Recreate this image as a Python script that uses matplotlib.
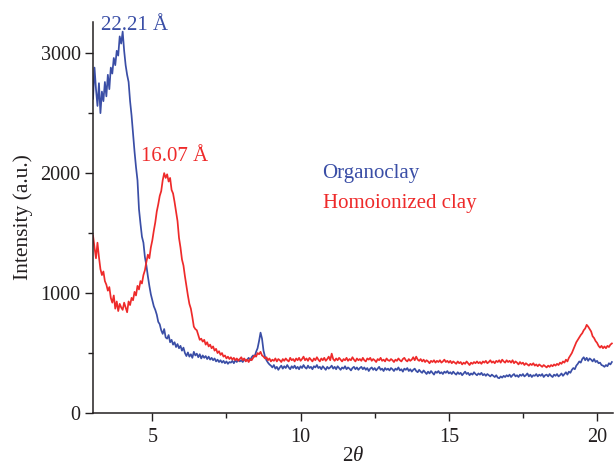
import numpy as np
import matplotlib
matplotlib.use("Agg")
import matplotlib.pyplot as plt
from matplotlib.ticker import MultipleLocator

# Organoclay intensity (a.u.), one row per degree of 2-theta, step 0.05 from 3.00
organoclay = [
    2620, 2880, 2700, 2560, 2750, 2500, 2680, 2600, 2760, 2640, 2820, 2700, 2880, 2830, 2960, 2900, 3020, 2980, 3140, 3080,
    3180, 3020, 2900, 2820, 2760, 2600, 2480, 2330, 2180, 2050, 1940, 1700, 1580, 1470, 1420, 1300, 1230, 1140, 1060, 990,
    940, 890, 860, 820, 760, 740, 690, 660, 700, 630, 620, 650, 590, 610, 570, 590, 550, 575, 540, 560,
    520, 545, 500, 475, 505, 470, 490, 460, 510, 480, 495, 465, 490, 455, 480, 460, 475, 450, 470, 445,
    460, 440, 455, 430, 445, 425, 440, 420, 435, 415, 430, 410, 425, 420, 435, 415, 440, 425, 445, 430,
    440, 425, 450, 435, 445, 460, 440, 465, 480, 470, 510, 540, 600, 670, 620, 520, 470, 440, 420, 405,
    395, 380, 400, 370, 385, 360, 380, 395, 370, 390, 375, 400, 380, 365, 390, 375, 395, 370, 385, 365,
    390, 375, 400, 380, 370, 395, 375, 385, 365, 390, 380, 400, 375, 385, 365, 390, 375, 360, 385, 370,
    380, 395, 370, 385, 365, 390, 375, 360, 380, 370, 390, 365, 380, 370, 355, 375, 385, 365, 380, 360,
    375, 385, 365, 380, 360, 375, 350, 370, 380, 360, 375, 355, 370, 385, 360, 370, 350, 375, 360, 370,
    355, 375, 365, 350, 370, 360, 380, 355, 365, 345, 370, 360, 375, 350, 365, 345, 360, 370, 350, 340,
    360, 345, 335, 355, 340, 325, 345, 330, 350, 335, 320, 345, 335, 350, 330, 340, 325, 345, 335, 350,
    330, 340, 325, 345, 330, 320, 340, 325, 335, 315, 330, 345, 325, 335, 315, 330, 320, 340, 325, 315,
    330, 320, 335, 315, 325, 310, 325, 315, 305, 320, 310, 300, 315, 295, 290, 305, 295, 310, 300, 315,
    305, 320, 300, 315, 325, 305, 315, 300, 320, 310, 325, 305, 315, 330, 305, 320, 300, 315, 310, 325,
    305, 320, 310, 325, 300, 315, 320, 305, 325, 310, 300, 320, 310, 325, 305, 315, 330, 310, 325, 340,
    320, 345, 335, 360, 375, 365, 395, 410, 430, 420, 450, 465, 440, 460, 435, 455, 445, 430, 450, 425,
    435, 415, 420, 400, 395, 385, 400, 390, 415, 405, 425,
]

# Homoionized clay intensity (a.u.), same 2-theta grid
homoionized = [
    1480, 1380, 1290, 1420, 1300, 1200, 1150, 1180, 1100, 1070, 1020, 1050, 960, 920, 980, 870, 930, 850, 910, 880,
    860, 920, 880, 840, 930, 900, 960, 940, 1010, 980, 1060, 1030, 1100, 1080, 1150, 1190, 1260, 1320, 1290, 1380,
    1440, 1520, 1590, 1680, 1740, 1810, 1850, 1940, 2000, 1960, 1990, 1930, 1960, 1860, 1830, 1760, 1680, 1600, 1460, 1380,
    1280, 1230, 1140, 1060, 980, 910, 870, 800, 720, 700, 690, 650, 610, 620, 595, 610, 570, 590, 555, 570,
    540, 555, 520, 535, 500, 515, 485, 500, 470, 480, 455, 470, 450, 465, 445, 460, 440, 455, 435, 450,
    465, 440, 455, 430, 445, 425, 450, 440, 460, 480, 470, 500, 490, 510, 480, 470, 455, 465, 440, 455,
    430, 445, 435, 455, 430, 450, 440, 425, 450, 435, 455, 440, 430, 460, 440, 450, 430, 455, 440, 460,
    435, 450, 470, 440, 455, 435, 460, 445, 430, 455, 440, 465, 445, 430, 455, 440, 460, 435, 450, 470,
    440, 495, 450, 435, 455, 440, 460, 445, 430, 450, 440, 460, 435, 450, 440, 465, 445, 430, 455, 440,
    450, 435, 460, 440, 430, 455, 445, 460, 435, 450, 440, 425, 450, 440, 460, 435, 445, 430, 455, 440,
    435, 450, 440, 425, 445, 435, 455, 440, 430, 450, 460, 440, 430, 450, 435, 445, 465, 440, 470, 445,
    435, 450, 430, 445, 425, 440, 430, 415, 435, 425, 440, 420, 435, 425, 440, 420, 430, 445, 425, 435,
    420, 435, 415, 430, 420, 410, 430, 415, 425, 405, 420, 410, 430, 415, 400, 420, 410, 425, 415, 430,
    415, 425, 410, 430, 420, 435, 415, 425, 440, 420, 430, 415, 435, 425, 440, 420, 445, 430, 420, 440,
    425, 435, 420, 440, 415, 430, 420, 405, 425, 410, 420, 400, 415, 405, 395, 410, 400, 415, 395, 405,
    390, 405, 395, 385, 400, 390, 380, 395, 385, 400, 390, 405, 395, 410, 400, 420, 410, 430, 420, 445,
    430, 460, 480, 500, 530, 560, 590, 610, 630, 650, 665, 690, 705, 735, 720, 700, 680, 640, 625, 600,
    585, 560, 545, 560, 540, 555, 540, 560, 550, 570, 580,
]

# 2-theta grid (degrees) shared by both scans
two_theta_start = 3.0
two_theta_step = 0.05
two_theta = np.round(two_theta_start + two_theta_step * np.arange(len(organoclay)), 2)

blue = "#3a4ea6"
red = "#ee2a2a"
text_color = "#231f20"

plt.rcParams["font.family"] = ["Liberation Serif", "DejaVu Serif"]
plt.rcParams["mathtext.fontset"] = "custom"
plt.rcParams["mathtext.it"] = "Liberation Serif:italic"
plt.rcParams["mathtext.rm"] = "Liberation Serif"

fig = plt.figure(figsize=(6.14, 4.68), dpi=100)
ax = fig.add_axes([0.1515, 0.1175, 0.8465, 0.8355])

ax.plot(two_theta, organoclay, color=blue, lw=1.25)
ax.plot(two_theta, homoionized, color=red, lw=1.25)

ax.set_xlim(3.0, 20.53)
ax.set_ylim(0, 3260)

ax.xaxis.set_major_locator(MultipleLocator(5))
ax.xaxis.set_minor_locator(MultipleLocator(2.5))
ax.yaxis.set_major_locator(MultipleLocator(1000))
ax.yaxis.set_minor_locator(MultipleLocator(500))

for side in ("top", "right"):
    ax.spines[side].set_visible(False)
for side in ("left", "bottom"):
    ax.spines[side].set_linewidth(1.1)
    ax.spines[side].set_color(text_color)

ax.tick_params(which="major", direction="out", length=6, width=1.0,
               labelsize=14.5, colors=text_color, pad=3)
ax.tick_params(which="minor", direction="out", length=3.5, width=1.0,
               colors=text_color)
ax.tick_params(axis="x", which="major", pad=5)

ax.set_ylabel("Intensity (a.u.)", fontsize=15.5, color=text_color, labelpad=5)
ax.set_xlabel(r"2$\theta$", fontsize=15, color=text_color, labelpad=0)

ax.text(4.40, 3194, "22.21 Å", color=blue, fontsize=15, ha="center", va="baseline")
ax.text(5.76, 2100, "16.07 Å", color=red, fontsize=15, ha="center", va="baseline")

ax.text(10.74, 1960, "Organoclay", color=blue, fontsize=15, ha="left", va="baseline")
ax.text(10.74, 1710, "Homoionized clay", color=red, fontsize=15, ha="left", va="baseline")

fig.savefig("out.png", dpi=100)
